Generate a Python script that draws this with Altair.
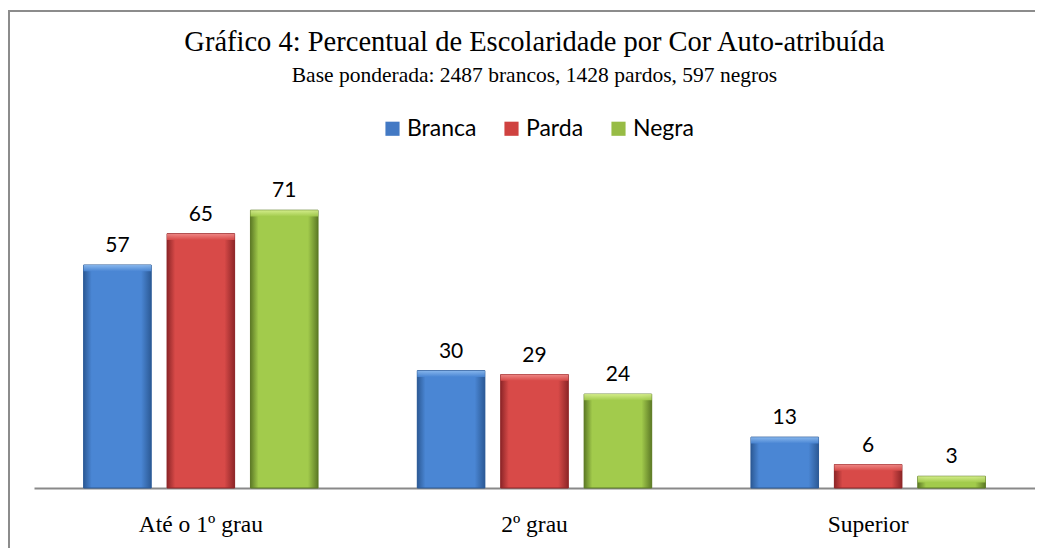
import altair as alt
import pandas as pd

categorias = ["Até o 1º grau", "2º grau", "Superior"]
cores = ["Branca", "Parda", "Negra"]
branca = [57, 30, 13]
parda = [65, 29, 6]
negra = [71, 24, 3]
titulo = "Gráfico 4: Percentual de Escolaridade por Cor Auto-atribuída"
subtitulo = "Base ponderada: 2487 brancos, 1428 pardos, 597 negros"

rows = []
for i, c in enumerate(categorias):
    rows.append({"Escolaridade": c, "Cor": "Branca", "Valor": branca[i]})
    rows.append({"Escolaridade": c, "Cor": "Parda", "Valor": parda[i]})
    rows.append({"Escolaridade": c, "Cor": "Negra", "Valor": negra[i]})
df = pd.DataFrame(rows)

solid = ["#4379c4", "#cf4240", "#97bc45"]
grads = {
    "Branca": ("#2c5a96", "#4a86d4", "#8ebcf0"),
    "Parda": ("#8e2628", "#d84a48", "#f28e8c"),
    "Negra": ("#5d7a26", "#a2cb4c", "#d8f090"),
}

W, H = 1001, 313

x_enc = alt.X("Escolaridade:N", sort=categorias,
              scale=alt.Scale(paddingInner=0.25, paddingOuter=0.125),
              axis=alt.Axis(title=None, labelAngle=0, ticks=False, domainColor="#898989",
                            domainWidth=2, labelFont="Liberation Serif", labelFontSize=23.5,
                            labelColor="#000000", labelPadding=43, labelBaseline="alphabetic",
                            grid=False))
xo_enc = alt.XOffset("Cor:N", sort=cores, scale=alt.Scale(paddingInner=0.19, paddingOuter=0.095))
y_enc = alt.Y("Valor:Q", scale=alt.Scale(domain=[0, 80]), axis=None)

base = alt.Chart(df)

bars = base.mark_bar().encode(
    x=x_enc, xOffset=xo_enc, y=y_enc,
    color=alt.Color("Cor:N", sort=cores,
                    scale=alt.Scale(domain=cores, range=solid),
                    legend=alt.Legend(title=None, orient="none", direction="horizontal",
                                      legendX=347, legendY=-58, symbolType="square",
                                      symbolSize=200, symbolStrokeWidth=0,
                                      labelFont="Lato", labelFontSize=23, labelColor="#000000",
                                      columnPadding=23, labelOffset=3)),
)

layers = [bars]
for c in cores:
    d, l, hl = grads[c]
    g = alt.Gradient(gradient="linear", x1=0, x2=1, y1=0, y2=0,
                     stops=[alt.GradientStop(color=d, offset=0),
                            alt.GradientStop(color=l, offset=0.12),
                            alt.GradientStop(color=l, offset=0.5),
                            alt.GradientStop(color=l, offset=0.85),
                            alt.GradientStop(color=d, offset=1)])
    layers.append(
        base.transform_filter(alt.datum.Cor == c).mark_bar(fill=g, stroke=d, strokeWidth=1).encode(
            x=x_enc, xOffset=xo_enc, y=y_enc)
    )
    hg = alt.Gradient(gradient="linear", x1=0, x2=0, y1=0, y2=1,
                      stops=[alt.GradientStop(color=hl, offset=0),
                             alt.GradientStop(color=l, offset=1)])
    layers.append(
        base.transform_filter(alt.datum.Cor == c)
        .transform_calculate(topo="datum.Valor - 1.6")
        .mark_bar(fill=hg, opacity=0.9)
        .encode(x=x_enc, xOffset=xo_enc, y=y_enc, y2="topo:Q")
    )

labels = base.mark_text(dy=-13, baseline="alphabetic", font="Lato", fontSize=21, color="#000000").encode(
    x=x_enc, xOffset=xo_enc, y=y_enc, text="Valor:Q")
layers.append(labels)

one = pd.DataFrame({"a": [0]})
title_mark = alt.Chart(one).mark_text(font="Liberation Serif", fontSize=28.5, color="#000000",
                                      baseline="alphabetic", align="center").encode(
    x=alt.value(W / 2), y=alt.value(-124), text=alt.value(titulo))
sub_mark = alt.Chart(one).mark_text(font="Liberation Serif", fontSize=21.5, color="#000000",
                                    baseline="alphabetic", align="center").encode(
    x=alt.value(W / 2), y=alt.value(-93), text=alt.value(subtitulo))

# frame lines (top and left edges of the chart box)
top_line = alt.Chart(one).mark_rule(color="#8c8c8c", strokeWidth=2).encode(
    x=alt.value(-26), x2=alt.value(W + 10), y=alt.value(-164))
left_line = alt.Chart(one).mark_rule(color="#8c8c8c", strokeWidth=2).encode(
    x=alt.value(-25), y=alt.value(-165), y2=alt.value(H + 80))
layers += [title_mark, sub_mark, top_line, left_line]

chart = alt.layer(*layers).properties(
    width=W, height=H, background="#ffffff",
    autosize=alt.AutoSizeParams(type="none"),
    padding={"left": 26, "top": 167, "right": 0, "bottom": 60},
).configure_view(stroke="transparent", strokeWidth=0)

chart.save("out.html", embed_options={"renderer": "svg", "actions": False})
